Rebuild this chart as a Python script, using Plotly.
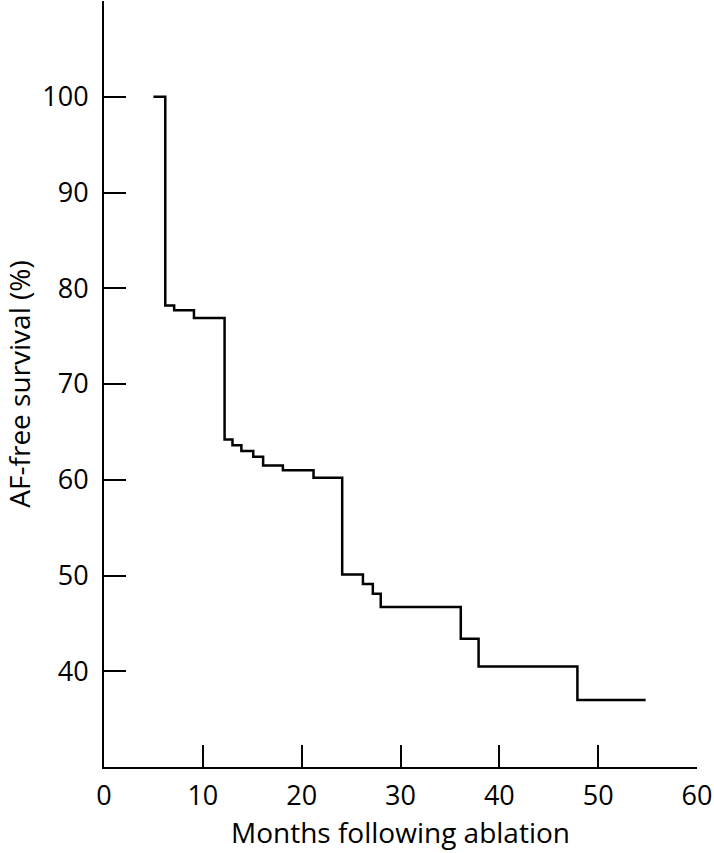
import plotly.graph_objects as go

# Kaplan-Meier style step data
months = [5.0, 6.2, 7.1, 9.1, 12.2, 13.0, 13.9, 15.1, 16.1, 18.1, 21.2,
          24.1, 26.2, 27.2, 28.0, 36.1, 37.9, 47.9, 54.8]
survival = [100, 78.2, 77.7, 76.9, 64.2, 63.6, 63.0, 62.4, 61.5, 61.0, 60.2,
            50.1, 49.1, 48.1, 46.7, 43.4, 40.5, 37.0, 37.0]

x_tickvals = [0, 10, 20, 30, 40, 50, 60]
x_ticktext = ["0", "10", "20", "30", "40", "50", "60"]
y_tickvals = [40, 50, 60, 70, 80, 90, 100, 110]
y_ticktext = ["40", "50", "60", "70", "80", "90", "100", ""]

FONT = "Open Sans"

fig = go.Figure()
fig.add_trace(go.Scatter(
    x=months, y=survival, mode="lines", line_shape="hv",
    line=dict(color="black", width=2.5), showlegend=False,
    hoverinfo="skip"))

fig.update_layout(
    width=714, height=853,
    margin=dict(l=104, r=17, t=1, b=86),
    paper_bgcolor="white", plot_bgcolor="white",
    font=dict(family=FONT, size=27, color="black"),
)
fig.update_xaxes(
    range=[0, 60], tickvals=x_tickvals, ticktext=x_ticktext,
    showline=True, linecolor="black", linewidth=2,
    ticks="inside", ticklen=22, tickwidth=2, tickcolor="black",
    showgrid=False, zeroline=False, ticklabelstandoff=4,
    automargin=False,
    title=dict(text="Months following ablation", standoff=6,
               font=dict(family=FONT, size=28)),
)
fig.update_yaxes(
    range=[30, 110], tickvals=y_tickvals, ticktext=y_ticktext,
    showline=True, linecolor="black", linewidth=2,
    ticks="inside", ticklen=22, tickwidth=2, tickcolor="black",
    showgrid=False, zeroline=False, ticklabelstandoff=8,
    automargin=False,
    title=dict(text="AF-free survival (%)", standoff=8,
               font=dict(family=FONT, size=28)),
)

fig.write_html("out.html",
               config={"displayModeBar": False},
               post_script="document.body.style.margin='0';document.body.style.padding='0';")
